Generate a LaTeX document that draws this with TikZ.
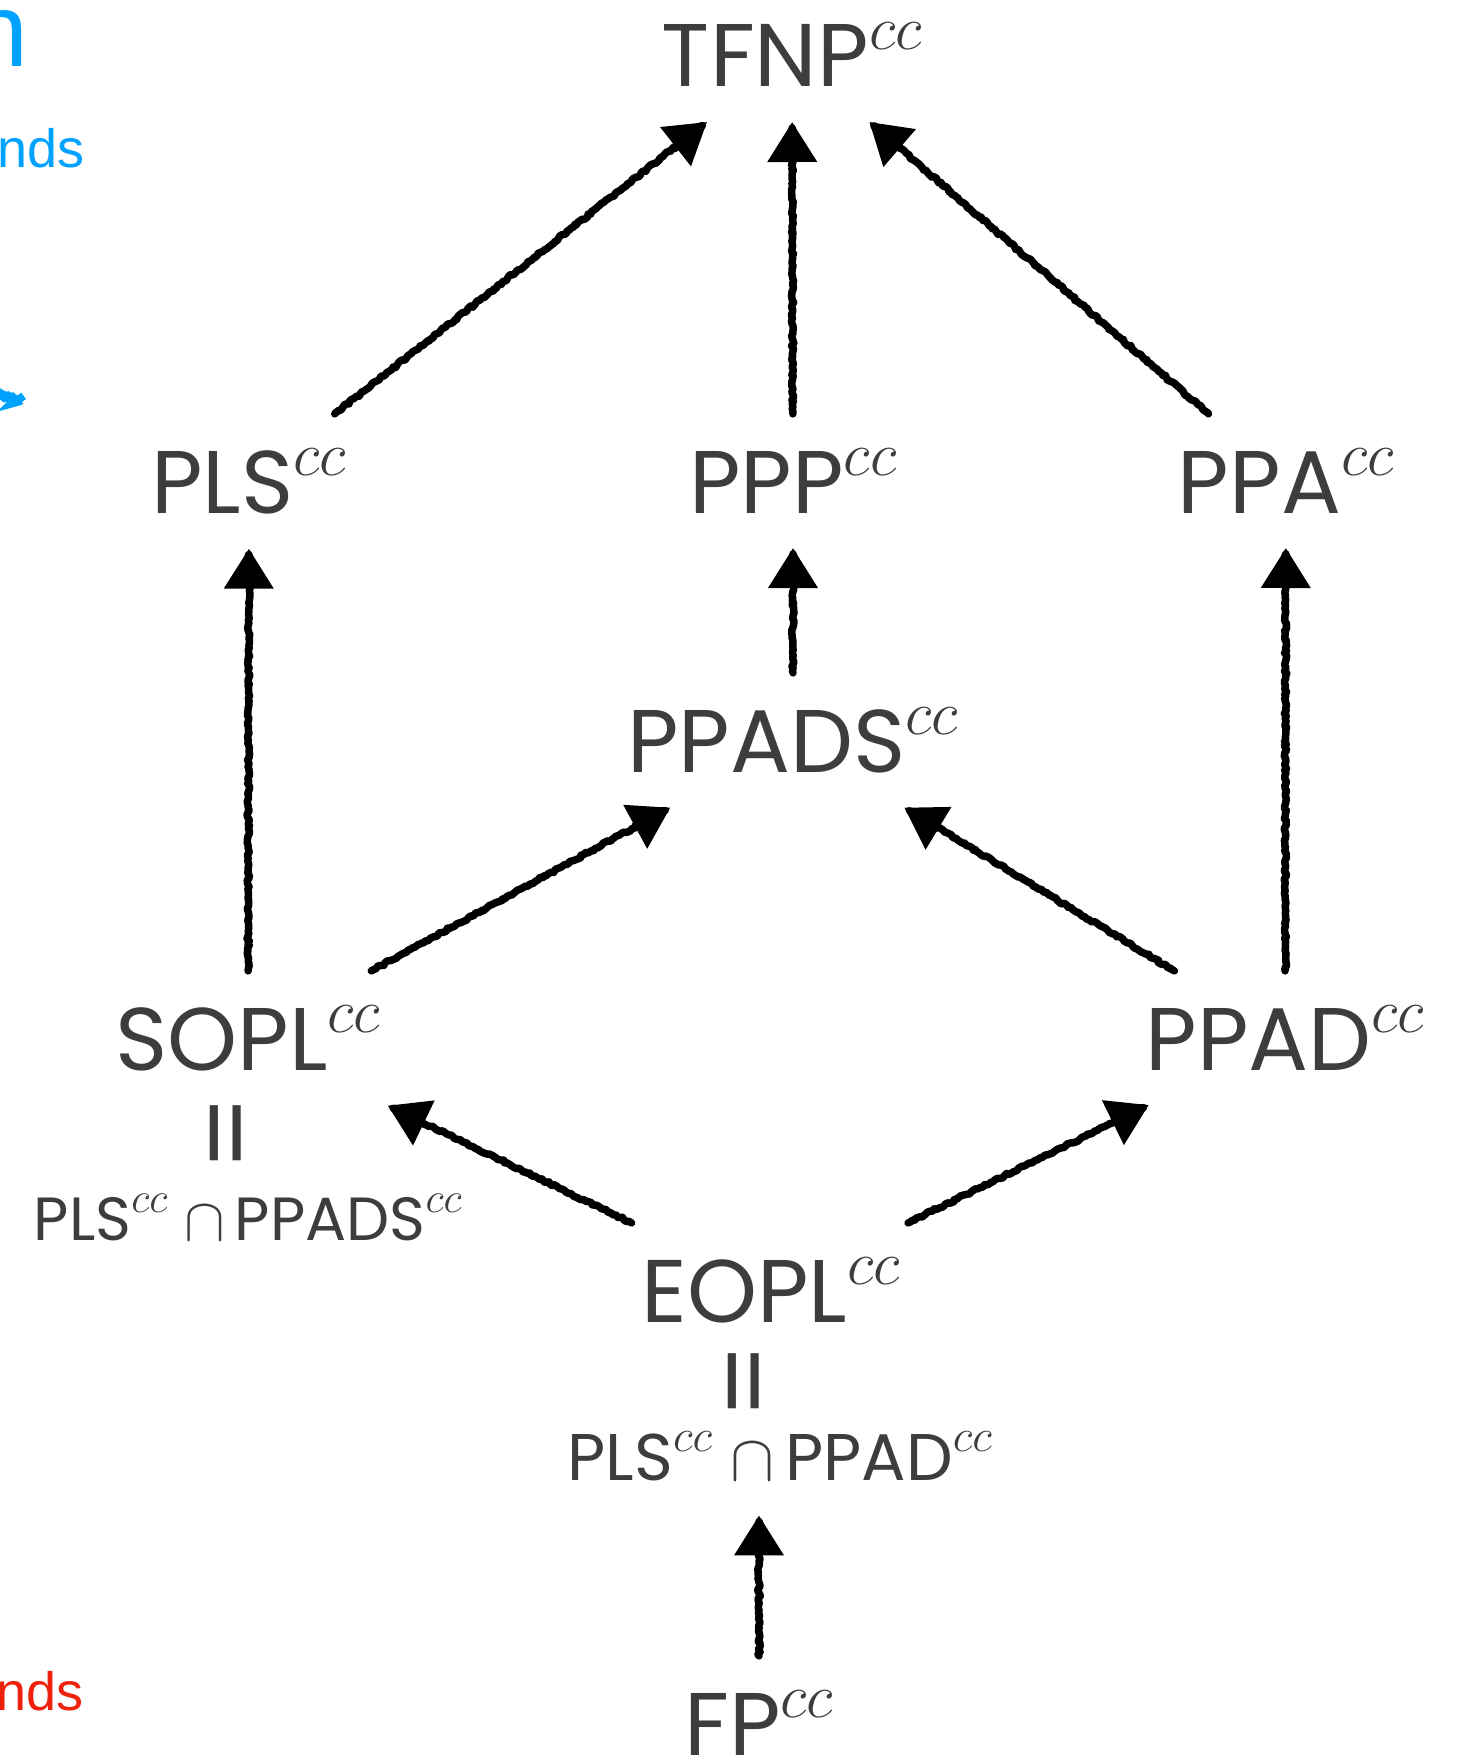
\RequirePackage{fix-cm}
\documentclass[tikz,border=0pt]{standalone}
\usepackage{fontspec}
\setmainfont{Poppins}
\newfontfamily\helv{Liberation Sans}
\usepackage{xcolor}
\usetikzlibrary{arrows.meta}
\usetikzlibrary{decorations.pathmorphing}
\definecolor{classgray}{HTML}{3D3D3D}
\definecolor{noteblue}{HTML}{00A2FF}
\definecolor{notered}{HTML}{EE220C}
\newcommand{\ccup}{$^{\raisebox{5pt}{$\scriptstyle cc$}}$}

\begin{document}
\begin{tikzpicture}[x=1pt, y=-1pt,
  cls/.style={text=classgray, inner sep=0pt, outer sep=35pt, anchor=base, font=\fontsize{89}{100}\selectfont},
  clsint/.style={text=classgray, inner sep=0pt, outer sep=35pt, anchor=base, font=\fontsize{66}{80}\selectfont},
  same/.style={text=classgray, inner sep=0pt, rotate=90, font=\fontsize{106}{110}\selectfont},
  note/.style={inner sep=0pt, anchor=base east, font=\helv\fontsize{54}{60}\selectfont},
  arr/.style={black, line width=7.5pt, line cap=round, line join=round, -{Triangle[length=40pt, width=48pt]},
    decorate, decoration={random steps, segment length=2.5pt, amplitude=1.2pt, post length=6pt}}]
\useasboundingbox (0,0) rectangle (1459,1758);
% cut-off notes at the left edge
\node[note, text=noteblue, font=\helv\fontsize{104}{110}\selectfont] (bluen) at (29,67) {n};
\node[note, text=noteblue] (bluends) at (85,167) {nds};
\node[note, text=notered] (redends) at (84,1710) {nds};
\draw[noteblue, line width=10pt, decorate, decoration={random steps, segment length=2pt, amplitude=2pt}] (-30,386) -- (22,402);
% classes
\node[cls] (tfnp) at (792,87) {TFNP\ccup};
\node[cls] (pls) at (249,513) {PLS\ccup};
\node[cls] (ppp) at (793,513) {PPP\ccup};
\node[cls] (ppa) at (1286,513) {PPA\ccup};
\node[cls] (ppads) at (793,772) {PPADS\ccup};
\node[cls] (sopl) at (248,1070) {SOPL\ccup};
\node[cls] (ppad) at (1285,1070) {PPAD\ccup};
\node[cls] (eopl) at (771,1322) {EOPL\ccup};
\node[cls] (fp) at (759,1755) {FP\ccup};
\node[same] (sopleq) at (237,1133) {=};
\node[clsint, font=\fontsize{61}{70}\selectfont] (soplint) at (248,1240) {PLS\ccup{} $\cap$\,PPADS\ccup};
\node[same] (eopleq) at (755,1381) {=};
\node[clsint] (eoplint) at (780,1480) {PLS\ccup{} $\cap$\,PPAD\ccup};
% inclusions
\draw[arr] (pls) -- (tfnp);
\draw[arr] (ppp) -- (tfnp);
\draw[arr] (ppa) -- (tfnp);
\draw[arr] (sopl) -- (pls);
\draw[arr] (ppads) -- (ppp);
\draw[arr] (ppad) -- (ppa);
\draw[arr] (sopl) -- (ppads);
\draw[arr] (ppad) -- (ppads);
\draw[arr] (eopl) -- (sopl);
\draw[arr] (eopl) -- (ppad);
\draw[arr] (fp.north) -- (fp.north |- eoplint.south);
\end{tikzpicture}
\end{document}
